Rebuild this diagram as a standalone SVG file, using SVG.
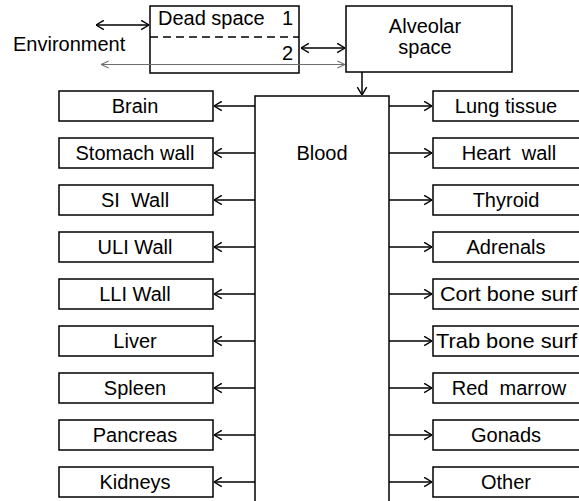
<svg xmlns="http://www.w3.org/2000/svg" width="579" height="501" viewBox="0 0 579 501">
<style>
text{font-family:"Liberation Sans",Arial,sans-serif;font-size:20px;fill:#000}
.box{fill:#fff;stroke:#000;stroke-width:1.5}
.c{stroke:#000;stroke-width:1.5;fill:none}
.g{stroke:#6e6e6e;stroke-width:1;fill:none}
.m{text-anchor:middle}
.pre{white-space:pre}
</style>
<defs>
<marker id="a" viewBox="0 0 10 12" refX="9.5" refY="6" markerWidth="9" markerHeight="11" markerUnits="userSpaceOnUse" orient="auto-start-reverse">
<path d="M0.8,0.8 L9.5,6 L0.8,11.2" fill="none" stroke="#000" stroke-width="1.6"/>
</marker>
<marker id="ag" viewBox="0 0 10 10" refX="9.5" refY="5" markerWidth="9" markerHeight="9" markerUnits="userSpaceOnUse" orient="auto-start-reverse">
<path d="M1,1.2 L9.5,5 L1,8.8" fill="none" stroke="#6e6e6e" stroke-width="1.2"/>
</marker>
</defs>
<rect width="579" height="501" fill="#fff"/>
<text x="13" y="51">Environment</text>
<g id="deadspace">
<rect class="box" x="150" y="6" width="149" height="67"/>
<line x1="150" y1="37" x2="299" y2="37" stroke="#000" stroke-width="1.5" stroke-dasharray="8,5"/>
<text x="158" y="25">Dead space <tspan x="282">1</tspan></text>
<text x="282" y="60">2</text>
</g>
<g id="alveolar">
<rect class="box" x="346" y="6" width="166" height="66"/>
<text class="m" x="425" y="33">Alveolar</text>
<text class="m" x="425" y="54">space</text>
</g>
<g id="blood">
<rect class="box" x="255" y="96" width="134" height="420"/>
<text class="m" x="322" y="160">Blood</text>
</g>
<g id="brain"><rect class="box" x="59" y="91" width="154" height="30"/><text class="m" x="135" y="113">Brain</text></g>
<g id="stomach"><rect class="box" x="59" y="138" width="154" height="30"/><text class="m" x="135" y="160">Stomach wall</text></g>
<g id="si"><rect class="box" x="59" y="185" width="154" height="30"/><text class="m pre" x="135" y="207">SI  Wall</text></g>
<g id="uli"><rect class="box" x="59" y="232" width="154" height="30"/><text class="m" x="135" y="254">ULI Wall</text></g>
<g id="lli"><rect class="box" x="59" y="279" width="154" height="30"/><text class="m" x="135" y="301">LLI Wall</text></g>
<g id="liver"><rect class="box" x="59" y="326" width="154" height="30"/><text class="m" x="135" y="348">Liver</text></g>
<g id="spleen"><rect class="box" x="59" y="373" width="154" height="30"/><text class="m" x="135" y="395">Spleen</text></g>
<g id="pancreas"><rect class="box" x="59" y="420" width="154" height="30"/><text class="m" x="135" y="442">Pancreas</text></g>
<g id="kidneys"><rect class="box" x="59" y="467" width="154" height="30"/><text class="m" x="135" y="489">Kidneys</text></g>
<g id="lung"><rect class="box" x="433" y="91" width="152" height="30"/><text class="m" x="506" y="113">Lung tissue</text></g>
<g id="heart"><rect class="box" x="433" y="138" width="152" height="30"/><text class="m pre" x="509" y="160">Heart  wall</text></g>
<g id="thyroid"><rect class="box" x="433" y="185" width="152" height="30"/><text class="m" x="506" y="207">Thyroid</text></g>
<g id="adrenals"><rect class="box" x="433" y="232" width="152" height="30"/><text class="m" x="506" y="254">Adrenals</text></g>
<g id="cort"><rect class="box" x="433" y="279" width="152" height="30"/><text x="440" y="301" textLength="137" lengthAdjust="spacingAndGlyphs">Cort bone surf</text></g>
<g id="trab"><rect class="box" x="433" y="326" width="152" height="30"/><text x="436" y="348" textLength="141" lengthAdjust="spacingAndGlyphs">Trab bone surf</text></g>
<g id="marrow"><rect class="box" x="433" y="373" width="152" height="30"/><text class="m pre" x="509" y="395">Red  marrow</text></g>
<g id="gonads"><rect class="box" x="433" y="420" width="152" height="30"/><text class="m" x="506" y="442">Gonads</text></g>
<g id="other"><rect class="box" x="433" y="467" width="152" height="30"/><text class="m" x="506" y="489">Other</text></g>
<g id="connectors">
<line class="c" x1="96" y1="25" x2="149" y2="25" marker-start="url(#a)" marker-end="url(#a)"/>
<line class="c" x1="301" y1="48" x2="345" y2="48" marker-start="url(#a)" marker-end="url(#a)"/>
<line class="g" x1="101" y1="64.5" x2="345" y2="64.5" marker-start="url(#ag)" marker-end="url(#ag)"/>
<line class="c" x1="362" y1="72" x2="362" y2="95" marker-end="url(#a)"/>
<g marker-end="url(#a)">
<line class="c" x1="255" y1="106" x2="214" y2="106"/>
<line class="c" x1="255" y1="153" x2="214" y2="153"/>
<line class="c" x1="255" y1="200" x2="214" y2="200"/>
<line class="c" x1="255" y1="247" x2="214" y2="247"/>
<line class="c" x1="255" y1="294" x2="214" y2="294"/>
<line class="c" x1="255" y1="341" x2="214" y2="341"/>
<line class="c" x1="255" y1="388" x2="214" y2="388"/>
<line class="c" x1="255" y1="435" x2="214" y2="435"/>
<line class="c" x1="255" y1="482" x2="214" y2="482"/>
<line class="c" x1="389" y1="106" x2="432" y2="106"/>
<line class="c" x1="389" y1="153" x2="432" y2="153"/>
<line class="c" x1="389" y1="200" x2="432" y2="200"/>
<line class="c" x1="389" y1="247" x2="432" y2="247"/>
<line class="c" x1="389" y1="294" x2="432" y2="294"/>
<line class="c" x1="389" y1="341" x2="432" y2="341"/>
<line class="c" x1="389" y1="388" x2="432" y2="388"/>
<line class="c" x1="389" y1="435" x2="432" y2="435"/>
<line class="c" x1="389" y1="482" x2="432" y2="482"/>
</g>
</g>
</svg>
